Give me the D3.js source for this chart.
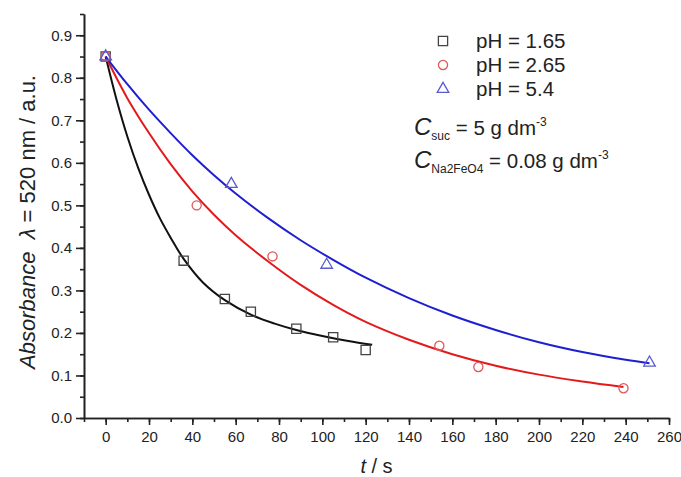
<!DOCTYPE html>
<html>
<head>
<meta charset="UTF-8">
<title>Absorbance vs time</title>
<script src="https://cdn.jsdelivr.net/npm/d3@7"></script>
<style>
    body { margin: 0; background: #fff; }
    svg { display: block; font-family: Arial, "Liberation Sans", sans-serif; }
    .axis path, .axis line { stroke: #222; stroke-width: 1.6; }
    .axis text { font-size: 15px; fill: #222; }
</style>
</head>
<body>
<div id="chart"></div>
<script>
    // valeurs : t (s) et absorbance
    const t165 = [0, 36, 55, 67, 88, 105, 120];
    const a165 = [0.85, 0.37, 0.28, 0.25, 0.21, 0.19, 0.16];
    const t265 = [0, 42, 77, 154, 172, 239];
    const a265 = [0.85, 0.50, 0.38, 0.17, 0.12, 0.07];
    const t54 = [0, 58, 102, 251];
    const a54 = [0.85, 0.55, 0.36, 0.13];

    // courbes d'ajustement, relevees point par point sur l'image
    const fitT165 = [0, 5, 10, 15, 20, 25, 30, 36, 45, 55, 67, 78, 88, 100, 112, 123];
    const fitA165 = [0.85, 0.749, 0.662, 0.588, 0.525, 0.470, 0.424, 0.374, 0.318, 0.277, 0.243, 0.222, 0.207, 0.193, 0.181, 0.172];
    const fitT265 = [0, 10, 20, 30, 40, 50, 60, 75, 90, 105, 120, 140, 160, 180, 200, 220, 239];
    const fitA265 = [0.85, 0.752, 0.670, 0.597, 0.533, 0.478, 0.430, 0.368, 0.313, 0.266, 0.226, 0.184, 0.150, 0.123, 0.102, 0.086, 0.073];
    const fitT54 = [0, 10, 20, 30, 40, 50, 60, 75, 90, 105, 120, 140, 160, 180, 200, 220, 240, 251];
    const fitA54 = [0.85, 0.785, 0.725, 0.670, 0.618, 0.571, 0.528, 0.470, 0.418, 0.372, 0.330, 0.282, 0.241, 0.207, 0.178, 0.155, 0.137, 0.129];

    const legendLabels = ["pH = 1.65", "pH = 2.65", "pH = 5.4"];
    const xTicks = d3.range(0, 261, 20);
    const xMinor = d3.range(-10, 261, 10);
    const yTicks = d3.range(0, 10).map(i => i / 10);
    const yMinor = d3.range(0, 20).map(i => i / 20);

    const width = 681, height = 477;
    const margin = { top: 14, right: 12, bottom: 59, left: 84 };

    const x = d3.scaleLinear().domain([-10, 260]).range([margin.left, width - margin.right]);
    const y = d3.scaleLinear().domain([0, 0.95]).range([height - margin.bottom, margin.top]);

    const svg = d3.select("#chart").append("svg")
        .attr("width", width)
        .attr("height", height);

    // axes : graduations secondaires puis principales
    svg.append("g").attr("class", "axis")
        .attr("transform", "translate(0," + y(0) + ")")
        .call(d3.axisBottom(x).tickValues(xMinor).tickSize(4).tickSizeOuter(0).tickFormat(""));
    svg.append("g").attr("class", "axis")
        .attr("transform", "translate(0," + y(0) + ")")
        .call(d3.axisBottom(x).tickValues(xTicks).tickSize(7).tickSizeOuter(0).tickPadding(6));

    svg.append("g").attr("class", "axis")
        .attr("transform", "translate(" + x(-10) + ",0)")
        .call(d3.axisLeft(y).tickValues(yMinor).tickSize(4).tickSizeOuter(0).tickFormat(""));
    svg.append("g").attr("class", "axis")
        .attr("transform", "translate(" + x(-10) + ",0)")
        .call(d3.axisLeft(y).tickValues(yTicks).tickSize(8).tickSizeOuter(0).tickPadding(4).tickFormat(d3.format(".1f")));

    // titres des axes
    const yTitle = svg.append("text")
        .attr("transform", "translate(35,222) rotate(-90)")
        .attr("text-anchor", "middle")
        .style("font-size", "22px")
        .style("fill", "#222");
    yTitle.append("tspan").style("font-style", "italic").text("Absorbance");
    yTitle.append("tspan").text("\u00a0\u00a0");
    yTitle.append("tspan").style("font-style", "italic").text("\u03bb");
    yTitle.append("tspan").text(" = 520 nm / a.u.");

    const xTitle = svg.append("text")
        .attr("x", (x(-10) + x(260)) / 2)
        .attr("y", 473)
        .attr("text-anchor", "middle")
        .style("font-size", "20px")
        .style("fill", "#222");
    xTitle.append("tspan").style("font-style", "italic").text("t");
    xTitle.append("tspan").text(" / s");

    // courbes
    const series = [
        { ft: fitT165, fa: fitA165, t: t165, a: a165, line: "#111", mark: "#444", shape: "square" },
        { ft: fitT265, fa: fitA265, t: t265, a: a265, line: "#e31a1c", mark: "#e05a5a", shape: "circle" },
        { ft: fitT54, fa: fitA54, t: t54, a: a54, line: "#1f1fd2", mark: "#5b5bd0", shape: "triangle" }
    ];

    const line = d3.line()
        .x(d => x(d[0]))
        .y(d => y(d[1]))
        .curve(d3.curveCatmullRom);

    const symbols = {
        square: d3.symbol().type(d3.symbolSquare).size(85),
        circle: d3.symbol().type(d3.symbolCircle).size(66),
        triangle: d3.symbol().type(d3.symbolTriangle).size(58)
    };

    series.forEach(s => {
        svg.append("path")
            .datum(d3.zip(s.ft, s.fa))
            .attr("d", line)
            .attr("fill", "none")
            .attr("stroke", s.line)
            .attr("stroke-width", 2);
    });

    series.forEach(s => {
        svg.append("g").selectAll("path")
            .data(d3.zip(s.t, s.a))
            .enter().append("path")
            .attr("transform", d => "translate(" + x(d[0]) + "," + y(d[1]) + ")")
            .attr("d", symbols[s.shape])
            .attr("fill", "none")
            .attr("stroke", s.mark)
            .attr("stroke-width", 1.3);
    });

    // legende
    const legend = svg.append("g").attr("transform", "translate(443,41)");
    legendLabels.forEach((lab, i) => {
        const s = series[i];
        legend.append("path")
            .attr("transform", "translate(0," + i * 24 + ")")
            .attr("d", symbols[s.shape])
            .attr("fill", "none")
            .attr("stroke", s.mark)
            .attr("stroke-width", 1.3);
        legend.append("text")
            .attr("x", 33)
            .attr("y", i * 24 + 7)
            .style("font-size", "20.5px")
            .style("fill", "#222")
            .text(lab);
    });

    // conditions
    function condition(yPos, sub, rest) {
        const txt = svg.append("text")
            .attr("x", 414)
            .attr("y", yPos)
            .style("fill", "#222")
            .style("font-size", "20.5px");
        txt.append("tspan").style("font-style", "italic").style("font-size", "24px").text("C");
        txt.append("tspan").style("font-size", "12px").attr("dy", 5).text(sub);
        txt.append("tspan").attr("dy", -5).text(" = " + rest);
        txt.append("tspan").style("font-size", "12px").attr("dy", -9).text("-3");
    }
    condition(135, "suc", "5 g dm");
    condition(168, "Na2FeO4", "0.08 g dm");
</script>
</body>
</html>
